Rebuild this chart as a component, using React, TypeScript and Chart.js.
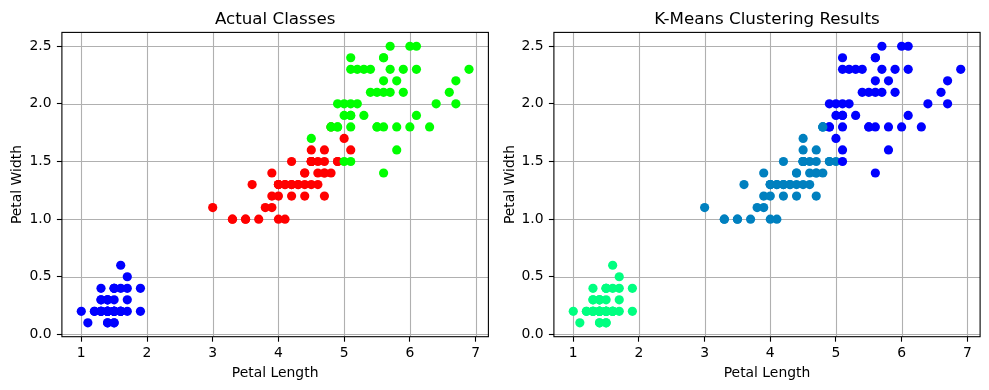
import React, { useEffect, useRef } from "react";
import { Chart, registerables } from "chart.js";

Chart.register(...registerables);

// ---------- data (Iris petal measurements) ----------
const setosaLength = [1.4,1.4,1.3,1.5,1.4,1.7,1.4,1.5,1.4,1.5,1.5,1.6,1.4,1.1,1.2,1.5,1.3,1.4,1.7,1.5,1.7,1.5,1.0,1.7,1.9,1.6,1.6,1.5,1.4,1.6,1.6,1.5,1.5,1.4,1.5,1.2,1.3,1.4,1.3,1.5,1.3,1.3,1.3,1.6,1.9,1.4,1.6,1.4,1.5,1.4];
const setosaWidth = [0.2,0.2,0.2,0.2,0.2,0.4,0.3,0.2,0.2,0.1,0.2,0.2,0.1,0.1,0.2,0.4,0.4,0.3,0.3,0.3,0.2,0.4,0.2,0.5,0.2,0.2,0.4,0.2,0.2,0.2,0.2,0.4,0.1,0.2,0.2,0.2,0.2,0.1,0.2,0.2,0.3,0.3,0.2,0.6,0.4,0.3,0.2,0.2,0.2,0.2];
const versicolorLength = [4.7,4.5,4.9,4.0,4.6,4.5,4.7,3.3,4.6,3.9,3.5,4.2,4.0,4.7,3.6,4.4,4.5,4.1,4.5,3.9,4.8,4.0,4.9,4.7,4.3,4.4,4.8,5.0,4.5,3.5,3.8,3.7,3.9,5.1,4.5,4.5,4.7,4.4,4.1,4.0,4.4,4.6,4.0,3.3,4.2,4.2,4.2,4.3,3.0,4.1];
const versicolorWidth = [1.4,1.5,1.5,1.3,1.5,1.3,1.6,1.0,1.3,1.4,1.0,1.5,1.0,1.4,1.3,1.4,1.5,1.0,1.5,1.1,1.8,1.3,1.5,1.2,1.3,1.4,1.4,1.7,1.5,1.0,1.1,1.0,1.2,1.6,1.5,1.6,1.5,1.3,1.3,1.3,1.2,1.4,1.2,1.0,1.3,1.2,1.3,1.3,1.1,1.3];
const virginicaLength = [6.0,5.1,5.9,5.6,5.8,6.6,4.5,6.3,5.8,6.1,5.1,5.3,5.5,5.0,5.1,5.3,5.5,6.7,6.9,5.0,5.7,4.9,6.7,4.9,5.7,6.0,4.8,4.9,5.6,5.8,6.1,6.4,5.6,5.1,5.6,6.1,5.6,5.5,4.8,5.4,5.6,5.1,5.1,5.9,5.7,5.2,5.0,5.2,5.4,5.1];
const virginicaWidth = [2.5,1.9,2.1,1.8,2.2,2.1,1.7,1.8,1.8,2.5,2.0,1.9,2.1,2.0,2.4,2.3,1.8,2.2,2.3,1.5,2.3,2.0,2.0,1.8,2.1,1.8,1.8,1.8,2.1,1.6,1.9,2.0,2.2,1.5,1.4,2.3,2.4,1.8,1.8,2.1,2.4,2.3,1.9,2.3,2.5,2.3,1.9,2.0,2.3,1.8];

// K-Means cluster labels, same order as above
const setosaCluster = [2,2,2,2,2,2,2,2,2,2,2,2,2,2,2,2,2,2,2,2,2,2,2,2,2,2,2,2,2,2,2,2,2,2,2,2,2,2,2,2,2,2,2,2,2,2,2,2,2,2];
const versicolorCluster = [1,1,1,1,1,1,1,1,1,1,1,1,1,1,1,1,1,1,1,1,1,1,1,1,1,1,1,0,1,1,1,1,1,0,1,1,1,1,1,1,1,1,1,1,1,1,1,1,1,1];
const virginicaCluster = [0,0,0,0,0,0,1,0,0,0,0,0,0,0,0,0,0,0,0,1,0,0,0,0,0,0,1,0,0,0,0,0,0,0,0,0,0,0,1,0,0,0,0,0,0,0,0,0,0,0];

const classColors = ["#0000ff", "#ff0000", "#00ff00"]; // brg
const clusterColors = ["#0000ff", "#0080bf", "#00ff80"]; // winter

const xTicks = [1, 2, 3, 4, 5, 6, 7];
const yTicks = [0, 0.5, 1.0, 1.5, 2.0, 2.5];
const xLimits = [0.705, 7.195];
const yLimits = [-0.02, 2.62];

const titles = ["Actual Classes", "K-Means Clustering Results"];
const xLabel = "Petal Length";
const yLabel = "Petal Width";

const FONT = "'DejaVu Sans', Verdana, sans-serif";

const allLength = [...setosaLength, ...versicolorLength, ...virginicaLength];
const allWidth = [...setosaWidth, ...versicolorWidth, ...virginicaWidth];
const allClass = [
  ...setosaLength.map(() => 0),
  ...versicolorLength.map(() => 1),
  ...virginicaLength.map(() => 2),
];
const allCluster = [...setosaCluster, ...versicolorCluster, ...virginicaCluster];

type Layout = { W: number; L: number; R: number; T: number; B: number; yLabelX: number };

function buildChart(canvas: HTMLCanvasElement, title: string, colors: string[], layout: Layout) {
  const H = 390;
  const points = allLength.map((x, i) => ({ x, y: allWidth[i] }));
  const frame = {
    id: "frame",
    beforeDatasetsDraw(chart: any) {
      const { ctx, chartArea: a, scales } = chart;
      ctx.save();
      ctx.beginPath();
      ctx.rect(a.left, a.top, a.right - a.left, a.bottom - a.top);
      ctx.clip();
      ctx.strokeStyle = "#b0b0b0";
      ctx.lineWidth = 1.1;
      for (const v of xTicks) {
        const px = Math.round(scales.x.getPixelForValue(v)) + 0.5;
        ctx.beginPath();
        ctx.moveTo(px, a.top);
        ctx.lineTo(px, a.bottom);
        ctx.stroke();
      }
      for (const v of yTicks) {
        const py = Math.round(scales.y.getPixelForValue(v)) + 0.5;
        ctx.beginPath();
        ctx.moveTo(a.left, py);
        ctx.lineTo(a.right, py);
        ctx.stroke();
      }
      ctx.restore();
    },
    afterDatasetsDraw(chart: any) {
      const { ctx, chartArea: a } = chart;
      ctx.save();
      ctx.strokeStyle = "#000";
      ctx.lineWidth = 1.1;
      ctx.strokeRect(a.left, a.top, a.right - a.left, a.bottom - a.top);
      ctx.restore();
    },
    afterDraw(chart: any) {
      const { ctx, chartArea: a } = chart;
      const cx = (a.left + a.right) / 2;
      const cy = (a.top + a.bottom) / 2;
      ctx.save();
      ctx.fillStyle = "#000";
      ctx.textAlign = "center";
      ctx.textBaseline = "alphabetic";
      ctx.font = `16.7px ${FONT}`;
      ctx.fillText(title, cx, 24);
      ctx.font = `13.9px ${FONT}`;
      ctx.fillText(xLabel, cx, 377.3);
      ctx.translate(layout.yLabelX, cy);
      ctx.rotate(-Math.PI / 2);
      ctx.fillText(yLabel, 0, 0);
      ctx.restore();
    },
  };

  const tickFont = { family: FONT, size: 13.9 };

  return new Chart(canvas, {
    type: "scatter",
    data: {
      datasets: [
        {
          data: points,
          pointBackgroundColor: colors,
          pointBorderWidth: 0,
          pointRadius: 4.6,
          pointHoverRadius: 4.6,
        },
      ],
    },
    options: {
      animation: false,
      responsive: false,
      maintainAspectRatio: false,
      events: [],
      layout: { padding: { left: 0, right: layout.W - layout.R, top: layout.T, bottom: 0 } },
      plugins: { legend: { display: false }, tooltip: { enabled: false }, title: { display: false } },
      scales: {
        x: {
          type: "linear",
          min: xLimits[0],
          max: xLimits[1],
          border: { display: false },
          grid: { drawOnChartArea: false, drawTicks: true, tickLength: 5, tickColor: "#000", tickWidth: 1.1 },
          ticks: { color: "#000", font: tickFont, padding: 3, maxRotation: 0, callback: (v: any) => String(v) },
          afterBuildTicks: (s: any) => {
            s.ticks = xTicks.map((v) => ({ value: v }));
          },
          afterFit: (s: any) => {
            s.height = H - layout.B;
            s.paddingLeft = 0;
            s.paddingRight = 0;
            s.paddingTop = 0;
            s.paddingBottom = 0;
          },
        },
        y: {
          type: "linear",
          min: yLimits[0],
          max: yLimits[1],
          border: { display: false },
          grid: { drawOnChartArea: false, drawTicks: true, tickLength: 5, tickColor: "#000", tickWidth: 1.1 },
          ticks: { color: "#000", font: tickFont, padding: 5.3, callback: (v: any) => Number(v).toFixed(1) },
          afterBuildTicks: (s: any) => {
            s.ticks = yTicks.map((v) => ({ value: v }));
          },
          afterFit: (s: any) => {
            s.width = layout.L;
            s.paddingLeft = 0;
            s.paddingRight = 0;
            s.paddingTop = 0;
            s.paddingBottom = 0;
          },
        },
      },
    },
    plugins: [frame],
  } as any);
}

function Panel({ left, layout, title, colors }: { left: number; layout: Layout; title: string; colors: string[] }) {
  const ref = useRef<HTMLCanvasElement>(null);
  useEffect(() => {
    if (!ref.current) return;
    const chart = buildChart(ref.current, title, colors, layout);
    return () => chart.destroy();
  }, []);
  return (
    <canvas
      ref={ref}
      width={layout.W}
      height={390}
      style={{ position: "absolute", left, top: 0, width: layout.W, height: 390 }}
    />
  );
}

const leftLayout: Layout = { W: 494, L: 61.9, R: 488.4, T: 32.4, B: 336.7, yLabelX: 21.3 };
const rightLayout: Layout = { W: 495, L: 59.9, R: 486.1, T: 32.4, B: 336.7, yLabelX: 20 };

export default function App() {
  const classColorList = allClass.map((c) => classColors[c]);
  const clusterColorList = allCluster.map((c) => clusterColors[c]);
  return (
    <div style={{ position: "fixed", left: 0, top: 0, width: 989, height: 390, background: "#fff", overflow: "hidden" }}>
      <Panel left={0} layout={leftLayout} title={titles[0]} colors={classColorList} />
      <Panel left={494} layout={rightLayout} title={titles[1]} colors={clusterColorList} />
    </div>
  );
}
